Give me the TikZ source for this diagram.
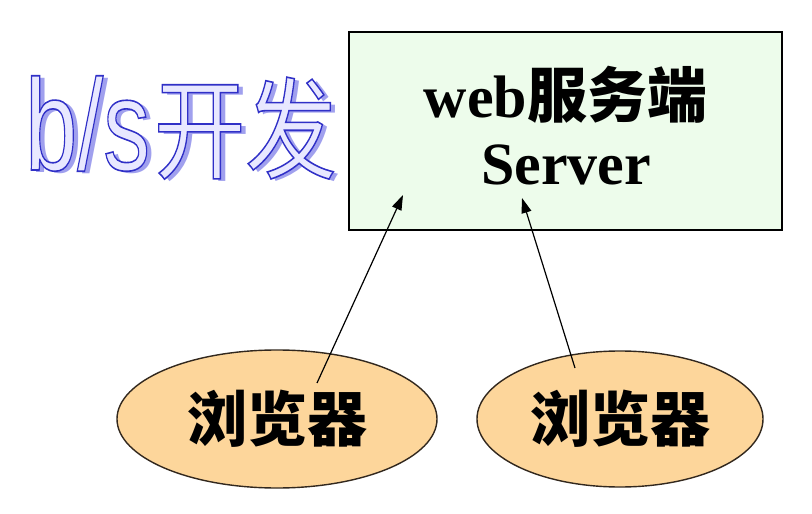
\documentclass[tikz,border=0pt]{standalone}
\usepackage{fontspec}
\usepackage{graphicx}
\setmainfont{Liberation Serif}
\newfontfamily\cjk{Noto Sans CJK SC}
\newfontfamily\wa{Liberation Sans}
\usetikzlibrary{shapes.geometric,arrows.meta}
\definecolor{boxfill}{RGB}{237,252,235}
\definecolor{ellfill}{RGB}{253,214,155}
\definecolor{ellline}{RGB}{50,40,30}
\definecolor{wafill}{RGB}{232,232,255}
\definecolor{washadow}{RGB}{160,160,238}
\newcommand\outl{\special{pdf:literal 0.19 0.19 0.78 RG 2 Tr 1.6 w}}
\newcommand\outoff{\special{pdf:literal 0 Tr}}
\newcommand\watext[1]{\scalebox{0.72}[1]{\fontsize{130bp}{130bp}\wa #1b/s\outoff}\hspace{4bp}\scalebox{0.83}[1]{\fontsize{110bp}{110bp}\cjk #1开发\outoff}}
\begin{document}
\begin{tikzpicture}[x=1bp,y=-1bp,
  srvbox/.style={draw=black,line width=1.5bp,fill=boxfill,rectangle,minimum width=433bp,minimum height=198bp,inner sep=0},
  brw/.style={draw=ellline,line width=1.4bp,fill=ellfill,ellipse,inner sep=0,font=\fontsize{60bp}{60bp}\cjk\bfseries},
  lbl/.style={anchor=base,inner sep=0},
  arr/.style={draw=black,line width=1.2bp,-{Triangle[length=15bp,width=10bp]}}]
\useasboundingbox[fill=white] (0,0) rectangle (812,514);
\node[anchor=base west,inner sep=0] (title) at (25,170) {\makebox[0pt][l]{\hspace*{5bp}\raisebox{-3bp}{\color{washadow}\watext{}}}{\color{wafill}\watext{\outl}}};
\node[srvbox] (srv) at (565.5,131) {};
\node[lbl,font=\fontsize{60bp}{60bp}\bfseries] (l1) at (565.5,118) {web{\cjk\bfseries 服务端}};
\node[lbl,font=\fontsize{60bp}{60bp}\bfseries] (l2) at (566,185) {Server};
\node[brw,minimum width=320bp,minimum height=138bp] (b1) at (277,419) {浏览器};
\node[brw,minimum width=286bp,minimum height=136bp] (b2) at (620,419) {浏览器};
\coordinate (t1) at (317,383);
\coordinate (h1) at (403,195);
\coordinate (t2) at (575,368);
\coordinate (h2) at (522,198);
\draw[arr] (t1) -- (h1);
\draw[arr] (t2) -- (h2);
\end{tikzpicture}
\end{document}
